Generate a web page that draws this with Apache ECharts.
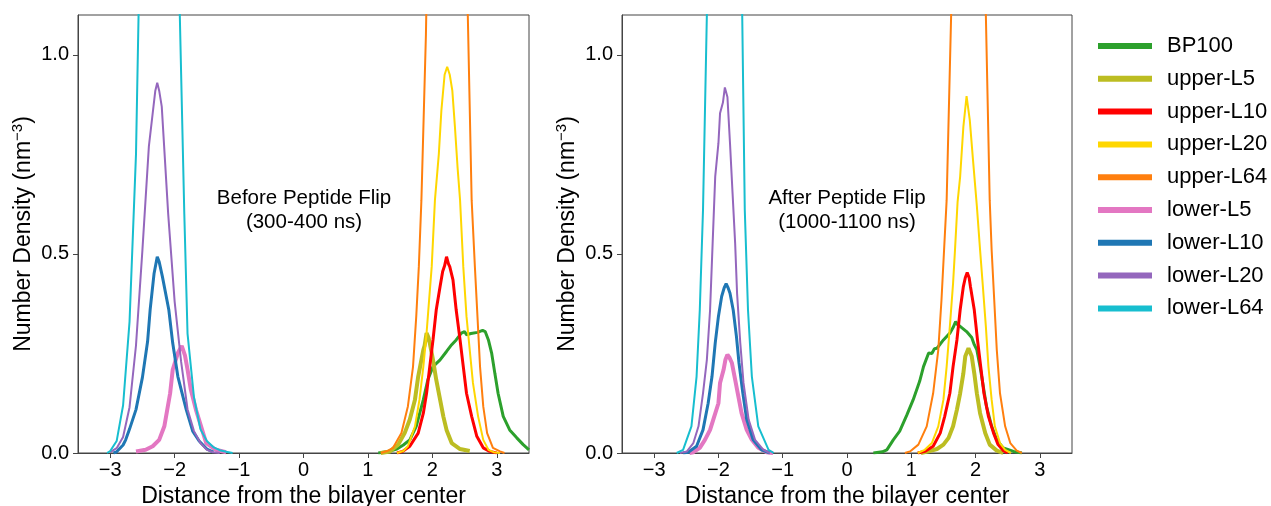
<!DOCTYPE html>
<html>
<head>
<meta charset="utf-8">
<script src="https://cdn.jsdelivr.net/npm/echarts@6/dist/echarts.min.js"></script>
<style>
  html, body { margin: 0; padding: 0; background: #fff; }
  #main { width: 1271px; height: 506px; }
</style>
</head>
<body>
<div id="main"></div>
<script>
// series names, colours and line widths (matplotlib style)
var names = ['BP100', 'upper-L5', 'upper-L10', 'upper-L20', 'upper-L64',
             'lower-L5', 'lower-L10', 'lower-L20', 'lower-L64'];
var colors = ['#2ca02c', '#bcbd22', '#ff0000', '#ffd700', '#ff7f0e',
              '#e377c2', '#1f77b4', '#9467bd', '#17becf'];
var widths = [3, 4, 3, 2, 2, 4, 3, 2, 2];

var xTicks = [-3, -2, -1, 0, 1, 2, 3];
var yTicks = [0, 0.5, 1.0];

// ---- Before peptide flip (300-400 ns) ----
var beforeBP100 = [[1.16,0],[1.3,0.003],[1.45,0.01],[1.55,0.02],[1.65,0.033],[1.75,0.067],[1.86,0.134],[1.93,0.184],[2.01,0.217],[2.12,0.234],[2.22,0.255],[2.3,0.272],[2.37,0.284],[2.45,0.301],[2.5,0.305],[2.53,0.297],[2.6,0.3],[2.63,0.295],[2.7,0.303],[2.78,0.308],[2.82,0.305],[2.87,0.284],[2.92,0.251],[2.97,0.2],[3.02,0.15],[3.1,0.092],[3.2,0.058],[3.31,0.038],[3.41,0.021],[3.5,0.008]];
var beforeUpperL5 = [[1.2,0],[1.34,0.004],[1.47,0.021],[1.57,0.05],[1.65,0.084],[1.73,0.134],[1.78,0.192],[1.83,0.234],[1.86,0.259],[1.88,0.27],[1.91,0.301],[1.94,0.29],[1.96,0.276],[2.01,0.234],[2.06,0.184],[2.12,0.134],[2.17,0.092],[2.22,0.058],[2.3,0.025],[2.43,0.01],[2.58,0.005]];
var beforeUpperL10 = [[1.45,0],[1.54,0.004],[1.65,0.017],[1.78,0.05],[1.86,0.1],[1.91,0.15],[1.96,0.217],[2.01,0.284],[2.06,0.359],[2.12,0.418],[2.16,0.456],[2.19,0.47],[2.22,0.493],[2.25,0.475],[2.27,0.468],[2.32,0.435],[2.37,0.359],[2.43,0.284],[2.48,0.217],[2.53,0.15],[2.61,0.092],[2.69,0.042],[2.79,0.013],[2.89,0.004],[3.0,0]];
var beforeUpperL20 = [[1.45,0],[1.55,0.005],[1.62,0.017],[1.73,0.067],[1.8,0.134],[1.86,0.217],[1.91,0.301],[1.95,0.385],[1.99,0.468],[2.04,0.635],[2.1,0.75],[2.14,0.86],[2.19,0.95],[2.23,0.97],[2.27,0.95],[2.31,0.91],[2.35,0.82],[2.39,0.72],[2.43,0.635],[2.48,0.468],[2.53,0.343],[2.58,0.259],[2.63,0.176],[2.71,0.092],[2.79,0.033],[2.87,0.008],[2.95,0.002],[3.05,0]];
var beforeUpperL64 = [[1.2,0],[1.3,0.005],[1.39,0.013],[1.52,0.05],[1.62,0.117],[1.7,0.217],[1.75,0.343],[1.79,0.468],[1.83,0.635],[1.9,1.05],[2.0,2.0],[2.1,2.9],[2.22,3.4],[2.35,2.8],[2.45,1.9],[2.55,1.1],[2.61,0.635],[2.66,0.468],[2.7,0.343],[2.74,0.217],[2.79,0.117],[2.85,0.05],[2.94,0.013],[3.05,0.004],[3.12,0]];
var beforeLowerL5 = [[-2.6,0.004],[-2.45,0.008],[-2.34,0.017],[-2.24,0.033],[-2.16,0.067],[-2.07,0.15],[-2.03,0.209],[-1.95,0.251],[-1.89,0.269],[-1.84,0.245],[-1.8,0.21],[-1.75,0.16],[-1.67,0.109],[-1.59,0.067],[-1.51,0.025],[-1.36,0.008],[-1.2,0.002]];
var beforeLowerL10 = [[-2.95,0],[-2.9,0.003],[-2.8,0.02],[-2.76,0.033],[-2.7,0.06],[-2.6,0.109],[-2.5,0.19],[-2.42,0.28],[-2.38,0.36],[-2.32,0.45],[-2.27,0.493],[-2.24,0.48],[-2.19,0.443],[-2.09,0.359],[-2.03,0.276],[-1.95,0.192],[-1.82,0.109],[-1.72,0.055],[-1.62,0.03],[-1.5,0.01],[-1.4,0.002]];
var beforeLowerL20 = [[-3.0,0.002],[-2.9,0.012],[-2.8,0.04],[-2.7,0.115],[-2.6,0.27],[-2.5,0.51],[-2.4,0.77],[-2.3,0.91],[-2.27,0.93],[-2.24,0.91],[-2.2,0.87],[-2.1,0.6],[-2.0,0.38],[-1.9,0.23],[-1.8,0.11],[-1.7,0.055],[-1.6,0.025],[-1.5,0.008],[-1.4,0.002],[-1.3,0]];
var beforeLowerL64 = [[-3.05,0],[-3.0,0.005],[-2.9,0.03],[-2.8,0.12],[-2.7,0.33],[-2.6,0.75],[-2.56,1.1],[-2.5,1.6],[-2.4,2.6],[-2.3,3.4],[-2.24,3.6],[-2.2,3.5],[-2.1,2.9],[-2.0,1.9],[-1.92,1.1],[-1.85,0.6],[-1.8,0.3],[-1.7,0.14],[-1.6,0.06],[-1.5,0.03],[-1.4,0.015],[-1.3,0.007],[-1.2,0.003],[-1.1,0]];

// ---- After peptide flip (1000-1100 ns) ----
var afterBP100 = [[0.41,0],[0.55,0.003],[0.62,0.008],[0.72,0.033],[0.82,0.055],[0.93,0.095],[1.03,0.134],[1.13,0.18],[1.19,0.217],[1.27,0.251],[1.32,0.25],[1.36,0.262],[1.4,0.263],[1.5,0.284],[1.6,0.301],[1.65,0.315],[1.69,0.33],[1.72,0.322],[1.76,0.318],[1.86,0.305],[1.94,0.29],[1.98,0.272],[2.02,0.259],[2.07,0.217],[2.12,0.167],[2.17,0.117],[2.25,0.067],[2.33,0.033],[2.43,0.013],[2.59,0.004],[2.72,0]];
var afterUpperL5 = [[1.15,0],[1.27,0.004],[1.4,0.01],[1.5,0.021],[1.58,0.038],[1.65,0.067],[1.71,0.109],[1.76,0.15],[1.81,0.2],[1.84,0.243],[1.87,0.255],[1.89,0.263],[1.91,0.255],[1.94,0.243],[1.98,0.2],[2.02,0.15],[2.07,0.1],[2.15,0.05],[2.22,0.021],[2.33,0.006],[2.43,0]];
var afterUpperL10 = [[1.1,0],[1.21,0.004],[1.34,0.017],[1.45,0.05],[1.52,0.092],[1.6,0.15],[1.65,0.217],[1.71,0.284],[1.76,0.359],[1.81,0.418],[1.84,0.44],[1.87,0.453],[1.9,0.44],[1.92,0.418],[1.98,0.359],[2.03,0.284],[2.08,0.217],[2.13,0.15],[2.2,0.092],[2.28,0.05],[2.35,0.021],[2.43,0.006],[2.5,0]];
var afterUpperL20 = [[1.1,0],[1.21,0.008],[1.32,0.025],[1.42,0.067],[1.5,0.134],[1.55,0.217],[1.6,0.318],[1.65,0.426],[1.68,0.51],[1.72,0.63],[1.76,0.694],[1.81,0.819],[1.86,0.896],[1.91,0.836],[1.96,0.736],[2.02,0.62],[2.07,0.51],[2.11,0.426],[2.16,0.318],[2.2,0.217],[2.25,0.134],[2.3,0.067],[2.38,0.025],[2.46,0.008],[2.55,0]];
var afterUpperL64 = [[0.9,0],[0.98,0.004],[1.11,0.021],[1.24,0.067],[1.34,0.15],[1.42,0.259],[1.47,0.385],[1.51,0.51],[1.55,0.635],[1.62,1.1],[1.7,1.85],[1.8,2.75],[1.89,3.05],[1.98,2.7],[2.08,1.8],[2.16,1.1],[2.22,0.635],[2.25,0.51],[2.29,0.385],[2.33,0.259],[2.38,0.15],[2.46,0.067],[2.54,0.025],[2.64,0.006],[2.72,0]];
var afterLowerL5 = [[-2.45,0],[-2.39,0.002],[-2.29,0.013],[-2.21,0.033],[-2.13,0.058],[-2.08,0.084],[-2.0,0.125],[-1.975,0.176],[-1.92,0.209],[-1.89,0.235],[-1.86,0.247],[-1.83,0.24],[-1.79,0.226],[-1.74,0.184],[-1.69,0.142],[-1.64,0.1],[-1.56,0.058],[-1.48,0.033],[-1.38,0.013],[-1.25,0.002],[-1.15,0]];
var afterLowerL10 = [[-2.55,0],[-2.47,0.002],[-2.34,0.017],[-2.24,0.058],[-2.16,0.125],[-2.1,0.192],[-2.05,0.276],[-2.0,0.343],[-1.95,0.393],[-1.91,0.415],[-1.88,0.425],[-1.85,0.415],[-1.82,0.401],[-1.77,0.359],[-1.72,0.293],[-1.68,0.226],[-1.62,0.15],[-1.56,0.084],[-1.46,0.033],[-1.33,0.008],[-1.2,0]];
var afterLowerL20 = [[-2.6,0],[-2.49,0.004],[-2.39,0.025],[-2.31,0.067],[-2.24,0.15],[-2.18,0.234],[-2.13,0.359],[-2.09,0.527],[-2.05,0.694],[-2.0,0.778],[-1.975,0.853],[-1.93,0.88],[-1.9,0.918],[-1.86,0.894],[-1.82,0.778],[-1.78,0.652],[-1.74,0.527],[-1.71,0.401],[-1.66,0.276],[-1.61,0.176],[-1.53,0.084],[-1.43,0.033],[-1.3,0.008],[-1.2,0]];
var afterLowerL64 = [[-2.65,0],[-2.55,0.008],[-2.42,0.067],[-2.34,0.192],[-2.29,0.359],[-2.24,0.61],[-2.18,1.1],[-2.1,1.9],[-2.0,2.7],[-1.91,3.05],[-1.82,2.7],[-1.72,1.9],[-1.63,1.1],[-1.59,0.61],[-1.54,0.359],[-1.48,0.192],[-1.38,0.067],[-1.22,0.008],[-1.14,0]];

var beforeData = [beforeBP100, beforeUpperL5, beforeUpperL10, beforeUpperL20, beforeUpperL64,
                  beforeLowerL5, beforeLowerL10, beforeLowerL20, beforeLowerL64];
var afterData = [afterBP100, afterUpperL5, afterUpperL10, afterUpperL20, afterUpperL64,
                 afterLowerL5, afterLowerL10, afterLowerL20, afterLowerL64];

var FONT = '"Liberation Sans", Arial, Helvetica, sans-serif';
var AXIS_COLOR = '#444';

function minus(v) {
    return v < 0 ? '\u2212' + Math.abs(v) : String(v);
}

function makeX(idx) {
    return {
        type: 'value', gridIndex: idx, min: -3.5, max: 3.5,
        name: 'Distance from the bilayer center',
        nameLocation: 'middle', nameGap: 28,
        nameTextStyle: { fontFamily: FONT, fontSize: 23, color: '#000' },
        axisLine: { show: true, onZero: false, lineStyle: { color: AXIS_COLOR, width: 1 } },
        axisTick: { show: true, length: 5, customValues: xTicks, lineStyle: { color: AXIS_COLOR } },
        axisLabel: { customValues: xTicks, formatter: minus, fontFamily: FONT, fontSize: 20, color: '#000', margin: 7 },
        splitLine: { show: false }
    };
}

function makeY(idx) {
    return {
        type: 'value', gridIndex: idx, min: 0, max: 1.1,
        name: 'Number Density (nm{sup|\u22123})',
        nameLocation: 'middle', nameGap: 41, nameRotate: 90,
        nameTextStyle: {
            fontFamily: FONT, fontSize: 23, color: '#000',
            rich: { sup: { fontFamily: FONT, fontSize: 15, color: '#000', padding: [0, 0, 12, 0] } }
        },
        axisLine: { show: true, onZero: false, lineStyle: { color: AXIS_COLOR, width: 1 } },
        axisTick: { show: true, length: 5, customValues: yTicks, lineStyle: { color: AXIS_COLOR } },
        axisLabel: { customValues: yTicks, formatter: function (v) { return v.toFixed(1); },
                     fontFamily: FONT, fontSize: 20, color: '#000', margin: 9 },
        splitLine: { show: false }
    };
}

var series = [];
[beforeData, afterData].forEach(function (set, p) {
    set.forEach(function (d, i) {
        series.push({
            type: 'line', name: names[i], data: d,
            xAxisIndex: p, yAxisIndex: p,
            showSymbol: false, symbol: 'none', clip: true,
            lineStyle: { color: colors[i], width: widths[i] },
            itemStyle: { color: colors[i] },
            z: 2 + i
        });
    });
});

var myChart = echarts.init(document.getElementById('main'), null, { renderer: 'canvas' });

var option = {
    animation: false,
    backgroundColor: '#fff',
    grid: [
        { left: 78, top: 15, width: 451, height: 438, show: true, borderColor: AXIS_COLOR, borderWidth: 1, outerBoundsMode: 'none', containLabel: false },
        { left: 622, top: 15, width: 450, height: 438, show: true, borderColor: AXIS_COLOR, borderWidth: 1, outerBoundsMode: 'none', containLabel: false }
    ],
    xAxis: [makeX(0), makeX(1)],
    yAxis: [makeY(0), makeY(1)],
    legend: {
        data: names, orient: 'vertical', left: 1093, top: 29,
        icon: 'rect', itemWidth: 54, itemHeight: 6, itemGap: 8.8,
        textStyle: { fontFamily: FONT, fontSize: 22, color: '#000', lineHeight: 24, padding: [0, 0, 0, 10] }
    },
    graphic: [
        { type: 'text', left: 304 - 100, top: 186, style: { text: 'Before Peptide Flip\n(300-400 ns)', fill: '#000', font: '20.5px ' + FONT, textAlign: 'center', lineHeight: 24, width: 200 } },
        { type: 'text', left: 847 - 100, top: 186, style: { text: 'After Peptide Flip\n(1000-1100 ns)', fill: '#000', font: '20.5px ' + FONT, textAlign: 'center', lineHeight: 24, width: 200 } }
    ],
    series: series
};

myChart.setOption(option);
</script>
</body>
</html>
